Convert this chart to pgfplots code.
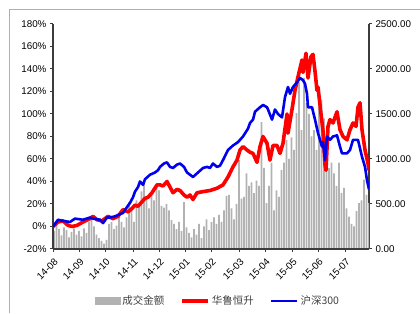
\documentclass[border=0pt]{standalone}
\usepackage{pgfplots}
\pgfplotsset{compat=1.18}
\usepackage{pgfplotstable}
\usepackage{fontspec}
\setmainfont{Liberation Sans}
\newfontfamily\cjk{Noto Sans CJK SC}
\definecolor{bargray}{RGB}{178,178,178}
\definecolor{axgray}{RGB}{60,60,60}
\definecolor{framegray}{RGB}{175,175,175}
\definecolor{hred}{RGB}{255,0,0}
\definecolor{hblue}{RGB}{0,0,238}
\pgfplotsset{
  lineleg/.style={legend image code/.code={\draw[##1] (0pt,0pt) -- (26pt,0pt);}},
  barleg/.style={legend image code/.code={\fill[bargray] (0pt,-3.5pt) rectangle (25pt,3.5pt);}},
}

\pgfplotstableread{
v
200
260
220
150
240
210
130
190
230
160
200
140
230
180
300
320
250
160
120
90
60
100
280
300
220
260
380
300
240
350
520
430
300
540
500
640
760
560
450
620
540
700
650
480
460
500
430
320
280
220
300
200
520
240
180
130
220
160
280
120
250
330
210
300
350
280
380
300
430
590
600
450
330
500
990
560
580
840
700
740
620
760
700
1410
900
510
700
960
430
650
580
880
960
1210
1000
1240
1100
1510
1850
1320
1900
1620
1500
1250
1320
1100
1580
1660
1450
1070
900
960
840
700
960
620
680
450
360
280
250
420
510
540
770
600
510
}\vol

\pgfplotstableread{
x y
0 0
5 4
10 5
15 1
19 0
24 1
30 4
37 7
40 9
44 6
49 5
52 7
55 9
60 7
65 9
70 15
75 13
79 16
82 19
85 18
89 22
92 25
95 26
99 30
104 37
107 37
110 36
114 40
117 35
120 30
124 33
127 32
131 28
134 26
137 28
140 24
144 30
150 31
157 32
164 34
170 37
175 44
180 53
184 59
187 68
190 71
194 68
197 66
200 65
204 57
207 71
210 80
214 74
217 59
220 72
224 72
227 65
230 74
234 100
235 83
239 104
242 121
245 133
249 148
250 137
253 154
255 132
258 151
260 153
262 138
264 121
265 124
268 100
270 85
272 55
273 50
275 89
277 95
280 92
284 102
287 86
290 80
294 77
297 86
300 92
303 89
305 106
307 110
309 86
312 68
315 56
316 50
}\hlhs

\pgfplotstableread{
x y
0 0
5 6
10 5
17 4
22 7
30 6
37 8
40 7
47 6
50 3
54 8
57 8
62 9
67 11
70 12
73 16
77 21
80 26
82 31
85 35
87 40
90 37
92 42
97 46
102 48
105 50
107 53
111 56
114 57
117 53
120 52
124 55
127 56
131 53
134 48
137 46
140 44
145 48
150 52
154 53
157 52
160 56
164 53
167 54
170 59
175 68
180 72
185 75
190 80
195 87
197 92
200 95
202 102
207 106
210 108
214 106
215 104
219 95
222 104
225 100
229 97
232 115
235 124
237 118
240 124
244 128
247 132
250 130
252 127
254 118
255 106
259 106
262 95
265 83
269 71
270 75
272 59
274 80
277 77
280 80
284 81
287 71
289 65
294 65
297 68
300 77
305 77
309 62
312 53
314 41
316 33
}\hsindex

\begin{document}
\begin{tikzpicture}[x=1pt,y=1pt]
\path[use as bounding box] (0,0) rectangle (420,313);
\draw[framegray, line width=0.8pt] (9,0) -- (9,304) -- (420,304);

\begin{axis}[
  at={(53pt,64pt)}, anchor=south west,
  scale only axis, width=316pt, height=225pt,
  xmin=0, xmax=316, ymin=0, ymax=2500,
  axis x line=none, axis y line*=right,
  ybar, bar width=1.9,
  ytick={0,500,...,2500},
  yticklabel style={/pgf/number format/.cd, fixed, fixed zerofill, precision=2, 1000 sep={}},
  /pgf/number format/assume math mode=true,
  tick label style={font=\fontsize{9.8}{11}\selectfont, black},
  tick align=outside, major tick length=3pt,
  axis line style={axgray, line width=1.5pt},
  every tick/.style={axgray, line width=1pt},
]
\addplot[fill=bargray, draw=none] table[x expr=\coordindex*2.5+1, y=v] {\vol};
\end{axis}

\begin{axis}[
  at={(53pt,64pt)}, anchor=south west,
  scale only axis, width=316pt, height=225pt,
  xmin=0, xmax=316, ymin=-20, ymax=180,
  axis x line*=bottom, axis y line*=left,
  xtick={0,26,52,80,106,132,158,186,212,239,265,292},
  xticklabels={14-08,14-09,14-10,14-11,14-12,15-01,15-02,15-03,15-04,15-05,15-06,15-07},
  x tick label style={rotate=45, anchor=north east, yshift=-1pt},
  ytick={-20,0,...,180},
  yticklabel={\pgfmathprintnumber{\tick}\%},
  /pgf/number format/assume math mode=true,
  tick label style={font=\fontsize{9.8}{11}\selectfont, black},
  tick align=outside, major tick length=3pt,
  axis line style={axgray, line width=1.5pt},
  every tick/.style={axgray, line width=1pt},
  legend style={at={(0.522,-0.231)}, anchor=center, draw=none, fill=none,
    legend columns=3, font=\cjk\fontsize{10.5}{12}\selectfont, text=black!75,
    /tikz/every even column/.append style={column sep=14pt}, inner sep=0pt},
  legend cell align=left,
]
\addlegendimage{barleg}
\addlegendentry{成交金额}
\addplot[hred, line width=3.6pt, line join=round, lineleg] table[x=x, y=y] {\hlhs};
\addlegendentry{华鲁恒升}
\addplot[hblue, line width=2.6pt, line join=round, lineleg] table[x=x, y=y] {\hsindex};
\addlegendentry{沪深300}
\end{axis}
\end{tikzpicture}
\end{document}
